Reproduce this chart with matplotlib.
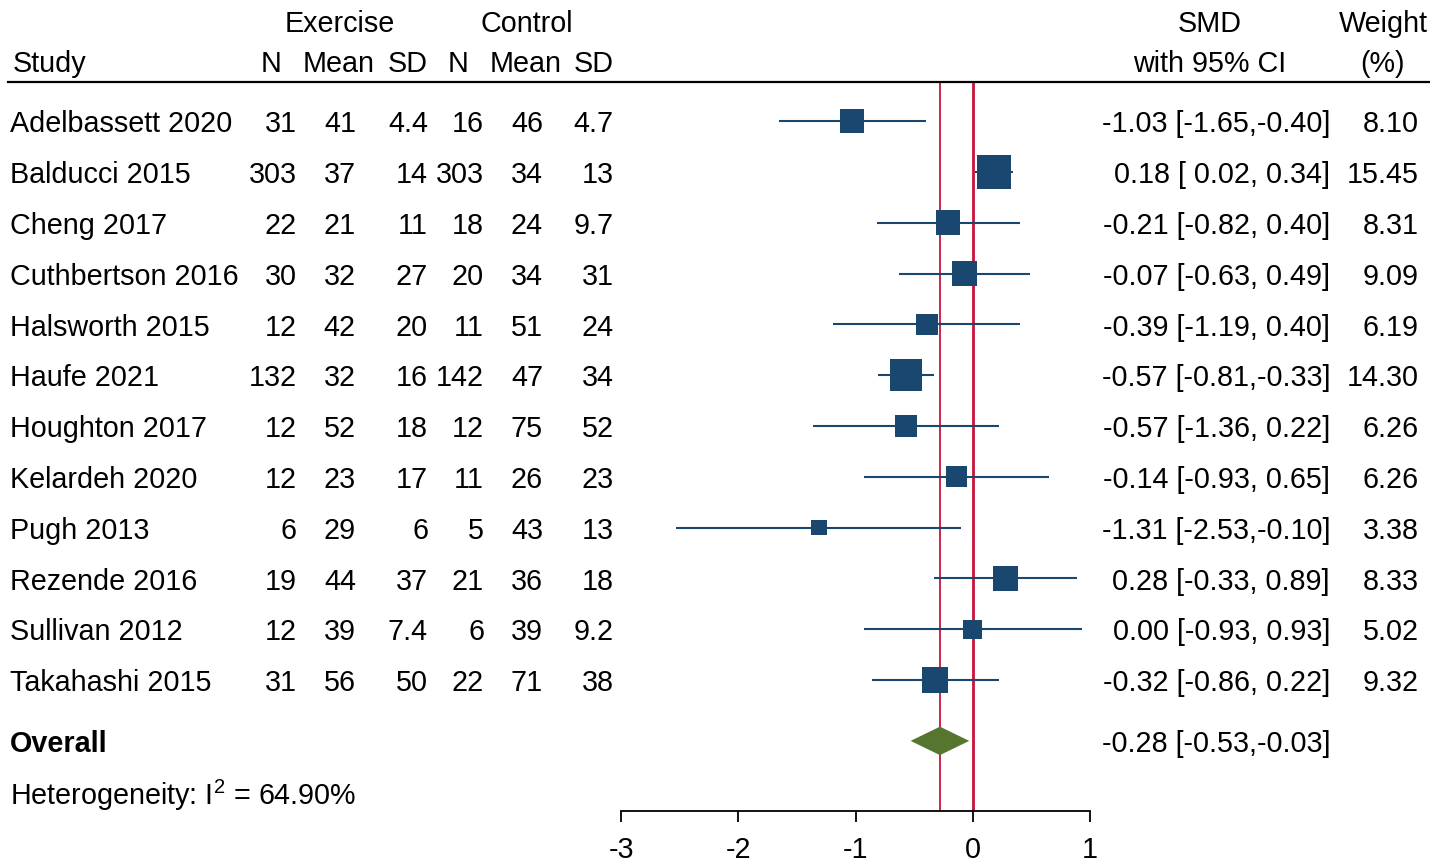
import matplotlib
matplotlib.use("Agg")
import matplotlib.pyplot as plt
from matplotlib.transforms import blended_transform_factory
from matplotlib.lines import Line2D

plt.rcParams['font.family'] = ['Liberation Sans', 'DejaVu Sans']
plt.rcParams['mathtext.fontset'] = 'custom'
plt.rcParams['mathtext.rm'] = 'Liberation Sans'
plt.rcParams['mathtext.it'] = 'Liberation Sans:italic'
plt.rcParams['mathtext.bf'] = 'Liberation Sans:bold'

studies = ['Adelbassett 2020', 'Balducci 2015', 'Cheng 2017', 'Cuthbertson 2016',
           'Halsworth 2015', 'Haufe 2021', 'Houghton 2017', 'Kelardeh 2020',
           'Pugh 2013', 'Rezende 2016', 'Sullivan 2012', 'Takahashi 2015']
ex_n = [31, 303, 22, 30, 12, 132, 12, 12, 6, 19, 12, 31]
ex_mean = [41, 37, 21, 32, 42, 32, 52, 23, 29, 44, 39, 56]
ex_sd = [4.4, 14, 11, 27, 20, 16, 18, 17, 6, 37, 7.4, 50]
ct_n = [16, 303, 18, 20, 11, 142, 12, 11, 5, 21, 6, 22]
ct_mean = [46, 34, 24, 34, 51, 47, 75, 26, 43, 36, 39, 71]
ct_sd = [4.7, 13, 9.7, 31, 24, 34, 52, 23, 13, 18, 9.2, 38]
smd = [-1.03, 0.18, -0.21, -0.07, -0.39, -0.57, -0.57, -0.14, -1.31, 0.28, 0.00, -0.32]
ci_lo = [-1.65, 0.02, -0.82, -0.63, -1.19, -0.81, -1.36, -0.93, -2.53, -0.33, -0.93, -0.86]
ci_hi = [-0.40, 0.34, 0.40, 0.49, 0.40, -0.33, 0.22, 0.65, -0.10, 0.89, 0.93, 0.22]
weight = [8.10, 15.45, 8.31, 9.09, 6.19, 14.30, 6.26, 6.26, 3.38, 8.33, 5.02, 9.32]
overall = (-0.28, -0.53, -0.03)
i2 = 64.90
xticks = [-3, -2, -1, 0, 1]

W, H = 1430, 862
fig = plt.figure(figsize=(W / 100, H / 100), dpi=100)
ax = fig.add_axes([621 / W, 1 - 812 / H, (1090 - 621) / W, (812 - 83) / H])

FS = 20.7
NAVY = '#1A476F'
RED = '#C8143C'
GREEN = '#56762F'

n = len(studies)
rows = list(range(n))
y_over = n + 0.2
y_het = n + 1.2
ax.set_xlim(-3, 1)
ax.set_ylim(13.58, -0.77)

# reference lines
ax.axvline(overall[0], color=RED, lw=1.3, zorder=1)
ax.axvline(0, color=RED, lw=2.0, zorder=1)

# CIs and squares
for i in rows:
    ax.plot([ci_lo[i], ci_hi[i]], [i, i], color=NAVY, lw=1.5, zorder=2, solid_capstyle='butt')
ax.scatter(smd, rows, marker='s', s=[38 * w for w in weight], color=NAVY, zorder=3, linewidths=0)

# overall diamond
dh = 0.28
ax.fill([overall[1], overall[0], overall[2], overall[0]],
        [y_over, y_over - dh, y_over, y_over + dh], color=GREEN, zorder=4, lw=0)

# axis styling
for s in ['top', 'left', 'right']:
    ax.spines[s].set_visible(False)
ax.spines['bottom'].set_linewidth(1.3)
ax.set_yticks([])
ax.set_xticks(xticks)
ax.set_xticklabels([str(t) for t in xticks])
ax.tick_params(axis='x', length=8, width=1.3, labelsize=FS, pad=9)

tr = blended_transform_factory(fig.transFigure, ax.transData)
DY = 0.045

def fx(px):
    return px / W

def put(px, y, s, ha='right', **kw):
    ax.text(fx(px), y + DY, s, transform=tr, ha=ha, va='center', fontsize=FS, clip_on=False, **kw)

def fmt(v):
    return f"{v:g}"

for i in rows:
    put(10, i, studies[i], ha='left')
    put(297, i, str(ex_n[i]))
    put(356, i, str(ex_mean[i]))
    put(428, i, fmt(ex_sd[i]))
    put(484, i, str(ct_n[i]))
    put(543, i, str(ct_mean[i]))
    put(614, i, fmt(ct_sd[i]))
    put(1330, i, f"{smd[i]:5.2f} [{ci_lo[i]:5.2f},{ci_hi[i]:5.2f}]")
    put(1419, i, f"{weight[i]:.2f}")

put(10, y_over, 'Overall', ha='left', fontweight='bold')
put(1330, y_over, f"{overall[0]:5.2f} [{overall[1]:5.2f},{overall[2]:5.2f}]")
put(10, y_het, f"Heterogeneity: I$^{{2}}$ = {i2:.2f}%", ha='left')

# headers
y_h1 = (22 - 122) / 50.8
y_h2 = (62 - 122) / 50.8
put(340, y_h1, 'Exercise', ha='center')
put(527, y_h1, 'Control', ha='center')
put(1210, y_h1, 'SMD', ha='center')
put(1383, y_h1, 'Weight', ha='center')
put(13, y_h2, 'Study', ha='left')
for px, s in [(271, 'N'), (339, 'Mean'), (408, 'SD'), (458, 'N'), (526, 'Mean'), (594, 'SD')]:
    put(px, y_h2, s, ha='center')
put(1210, y_h2, 'with 95% CI', ha='center')
put(1383, y_h2, '(%)', ha='center')

fig.add_artist(Line2D([8 / W, 1.0], [1 - 83 / H, 1 - 83 / H], transform=fig.transFigure,
                      color='black', lw=1.6))

fig.savefig('out.png', dpi=100, facecolor='white')
